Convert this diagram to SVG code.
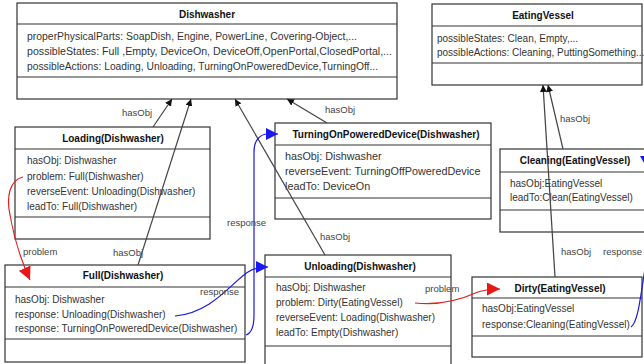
<svg xmlns="http://www.w3.org/2000/svg" width="644" height="364" viewBox="0 0 644 364">
<defs>
<style>
.box{fill:#fff;stroke:#333;stroke-width:1.2}
.sep{stroke:#333;stroke-width:1.2}
.title{font-family:"Liberation Sans",Arial,sans-serif;font-size:10px;font-weight:bold;fill:#111;text-anchor:middle}
.attr{font-family:"Liberation Sans",Arial,sans-serif;font-size:10px;fill:#333}
.lbl{font-family:"Liberation Sans",Arial,sans-serif;font-size:9.5px;fill:#444}
.obj{fill:none;stroke:#444;stroke-width:1.2}
.blue{fill:none;stroke:#1a1adb;stroke-width:1.2}
.red{fill:none;stroke:#e02020;stroke-width:1.2}
</style>
<marker id="ab" viewBox="0 0 10 10" refX="10" refY="5" markerWidth="7" markerHeight="7" markerUnits="userSpaceOnUse" orient="auto"><path d="M0,0 L10,5 L0,10 z" fill="#111"/></marker>
<marker id="abl" viewBox="0 0 10 10" refX="10" refY="5" markerWidth="12" markerHeight="12" markerUnits="userSpaceOnUse" orient="auto"><path d="M0,0 L10,5 L0,10 z" fill="#1a1af0"/></marker>
<marker id="ar" viewBox="0 0 10 10" refX="10" refY="5" markerWidth="13" markerHeight="13" markerUnits="userSpaceOnUse" orient="auto"><path d="M0,0 L10,5 L0,10 z" fill="#e81818"/></marker>
</defs>
<rect width="644" height="364" fill="#fff"/>

<g id="Dishwasher">
<rect class="box" x="17" y="3" width="380" height="96"/>
<line class="sep" x1="17" y1="24" x2="397" y2="24"/>
<line class="sep" x1="17" y1="77" x2="397" y2="77"/>
<text class="title" x="207" y="18">Dishwasher</text>
<text class="attr" x="27" y="40" textLength="330" lengthAdjust="spacingAndGlyphs">properPhysicalParts: SoapDish, Engine, PowerLine, Covering-Object,...</text>
<text class="attr" x="27" y="55" textLength="365" lengthAdjust="spacingAndGlyphs">possibleStates: Full ,Empty, DeviceOn, DeviceOff,OpenPortal,ClosedPortal,...</text>
<text class="attr" x="27" y="70" textLength="351" lengthAdjust="spacingAndGlyphs">possibleActions: Loading, Unloading, TurningOnPoweredDevice,TurningOff...</text>
</g>

<g id="EatingVessel">
<rect class="box" x="432" y="4" width="210" height="81"/>
<line class="sep" x1="432" y1="26" x2="642" y2="26"/>
<line class="sep" x1="432" y1="63" x2="642" y2="63"/>
<text class="title" x="543" y="19">EatingVessel</text>
<text class="attr" x="437" y="42">possibleStates: Clean, Empty,...</text>
<text class="attr" x="437" y="56">possibleActions: Cleaning, PuttingSomething...</text>
</g>

<g id="Loading">
<rect class="box" x="15" y="127" width="195" height="112"/>
<line class="sep" x1="15" y1="149" x2="210" y2="149"/>
<line class="sep" x1="15" y1="217" x2="210" y2="217"/>
<text class="title" x="113" y="142">Loading(Dishwasher)</text>
<text class="attr" x="27" y="164">hasObj: Dishwasher</text>
<text class="attr" x="27" y="180">problem: Full(Dishwasher)</text>
<text class="attr" x="27" y="195">reverseEvent: Unloading(Dishwasher)</text>
<text class="attr" x="27" y="210">leadTo: Full(Dishwasher)</text>
</g>

<g id="TurningOnPoweredDevice">
<rect class="box" x="275" y="123" width="216" height="96"/>
<line class="sep" x1="275" y1="145" x2="491" y2="145"/>
<line class="sep" x1="275" y1="198" x2="491" y2="198"/>
<text class="title" x="386" y="138">TurningOnPoweredDevice(Dishwasher)</text>
<text class="attr" x="285" y="160" style="font-size:10.8px">hasObj: Dishwasher</text>
<text class="attr" x="285" y="175" style="font-size:10.8px">reverseEvent: TurningOffPoweredDevice</text>
<text class="attr" x="285" y="190" style="font-size:10.8px">leadTo: DeviceOn</text>
</g>

<g id="Cleaning">
<rect class="box" x="500" y="149" width="152" height="83"/>
<line class="sep" x1="500" y1="172" x2="652" y2="172"/>
<line class="sep" x1="500" y1="210" x2="652" y2="210"/>
<text class="title" x="575" y="164">Cleaning(EatingVessel)</text>
<text class="attr" x="510" y="187">hasObj:EatingVessel</text>
<text class="attr" x="510" y="201">leadTo:Clean(EatingVessel)</text>
</g>

<g id="Full">
<rect class="box" x="5" y="265" width="240" height="97"/>
<line class="sep" x1="5" y1="287" x2="245" y2="287"/>
<line class="sep" x1="5" y1="339" x2="245" y2="339"/>
<text class="title" x="123" y="279">Full(Dishwasher)</text>
<text class="attr" x="15" y="303">hasObj: Dishwasher</text>
<text class="attr" x="15" y="318">response: Unloading(Dishwasher)</text>
<text class="attr" x="15" y="332">response: TurningOnPoweredDevice(Dishwasher)</text>
</g>

<g id="Unloading">
<rect class="box" x="265" y="255" width="186" height="120"/>
<line class="sep" x1="265" y1="277" x2="451" y2="277"/>
<line class="sep" x1="265" y1="346" x2="451" y2="346"/>
<text class="title" x="360" y="270">Unloading(Dishwasher)</text>
<text class="attr" x="276" y="291">hasObj: Dishwasher</text>
<text class="attr" x="276" y="306">problem: Dirty(EatingVessel)</text>
<text class="attr" x="276" y="321">reverseEvent: Loading(Dishwasher)</text>
<text class="attr" x="276" y="336">leadTo: Empty(Dishwasher)</text>
</g>

<g id="Dirty">
<rect class="box" x="472" y="277" width="170" height="80"/>
<line class="sep" x1="472" y1="298" x2="642" y2="298"/>
<line class="sep" x1="472" y1="336" x2="642" y2="336"/>
<text class="title" x="560" y="292">Dirty(EatingVessel)</text>
<text class="attr" x="482" y="312">hasObj:EatingVessel</text>
<text class="attr" x="482" y="328">response:Cleaning(EatingVessel)</text>
</g>

<g id="connectors">
<line class="obj" x1="153" y1="127" x2="172" y2="99" marker-end="url(#ab)"/>
<line class="obj" x1="138" y1="265" x2="191" y2="99" marker-end="url(#ab)"/>
<line class="obj" x1="325" y1="255" x2="235" y2="99" marker-end="url(#ab)"/>
<line class="obj" x1="327" y1="123" x2="287" y2="99" marker-end="url(#ab)"/>
<line class="obj" x1="563" y1="149" x2="548" y2="85" marker-end="url(#ab)"/>
<line class="obj" x1="555" y1="277" x2="543" y2="85" marker-end="url(#ab)"/>
<text class="lbl" x="122" y="116">hasObj</text>
<text class="lbl" x="113" y="256">hasObj</text>
<text class="lbl" x="320" y="240">hasObj</text>
<text class="lbl" x="325" y="113">hasObj</text>
<text class="lbl" x="560" y="122">hasObj</text>
<text class="lbl" x="561" y="255">hasObj</text>

<path class="blue" d="M246,335 C252,333 254,326 254,315 L254,152 C254,140 260,134 268,134 L278,134" marker-end="url(#abl)"/>
<path class="blue" d="M175,316 C212,313 232,282 248,272 C254,268 260,267 268,267" marker-end="url(#abl)"/>
<path class="blue" d="M631,327 C638,322 640,300 646,262"/>
<path d="M640,156 L648,156 L644,163 z" fill="#1a1af0"/>
<text class="lbl" x="227" y="226">response</text>
<text class="lbl" x="200" y="295">response</text>
<text class="lbl" x="603" y="255">response</text>

<path class="red" d="M23,177 C10,180 6,196 10,215 C14,238 20,258 30,280" marker-end="url(#ar)"/>
<path class="red" d="M415,303 C440,306 460,300 478,292 C484,290 490,289 500,289" marker-end="url(#ar)"/>
<text class="lbl" x="23" y="255">problem</text>
<text class="lbl" x="425" y="292">problem</text>
</g>
</svg>
